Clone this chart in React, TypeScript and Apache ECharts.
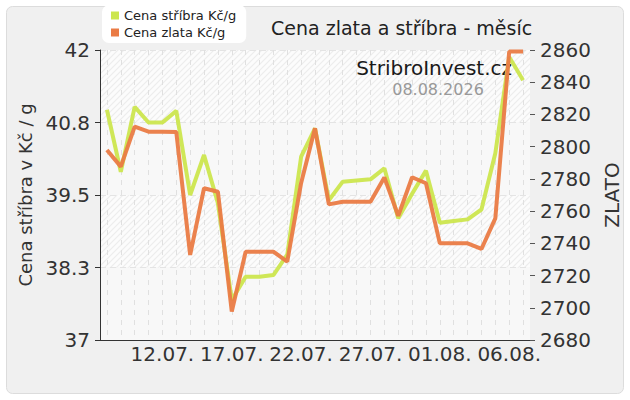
import React, { useEffect, useRef } from 'react';
import * as echarts from 'echarts';

const dates = [
  '08.07.', '09.07.', '10.07.', '11.07.', '12.07.', '13.07.', '14.07.', '15.07.',
  '16.07.', '17.07.', '18.07.', '19.07.', '20.07.', '21.07.', '22.07.', '23.07.',
  '24.07.', '25.07.', '26.07.', '27.07.', '28.07.', '29.07.', '30.07.', '31.07.',
  '01.08.', '02.08.', '03.08.', '04.08.', '05.08.', '06.08.', '07.08.',
];

const silverPrices = [
  40.97, 39.9, 41.02, 40.75, 40.75, 40.95, 39.5, 40.19, 39.36, 37.69, 38.09,
  38.09, 38.12, 38.47, 40.16, 40.65, 39.41, 39.73, 39.75, 39.77, 39.96, 39.1,
  39.52, 39.92, 39.02, 39.05, 39.08, 39.25, 40.22, 41.88, 41.48,
];

const goldPrices = [
  2797.9, 2787.6, 2812.4, 2809.3, 2809.3, 2809.1, 2732.8, 2774.2, 2772.0, 2697.6,
  2734.8, 2734.8, 2734.8, 2728.7, 2777.5, 2811.4, 2764.2, 2765.8, 2765.8, 2765.8,
  2780.9, 2757.0, 2781.0, 2777.3, 2740.0, 2740.0, 2740.0, 2736.5, 2755.5, 2859, 2859,
];

const silverTicks = [37, 38.25, 39.5, 40.75, 42];

const FONT = '"DejaVu Sans", Verdana, sans-serif';

const hatchSrc =
  'data:image/svg+xml;charset=utf-8,' +
  encodeURIComponent(
    '<svg xmlns="http://www.w3.org/2000/svg" width="6" height="6">' +
      '<rect width="6" height="6" fill="#fcfcfc"/>' +
      '<path d="M-1.5,1.5 L1.5,-1.5 M0,6 L6,0 M4.5,7.5 L7.5,4.5" stroke="#ededed" stroke-width="1.2"/>' +
      '</svg>'
  );

const showLabel = (i: number) => i % 5 === 4;

export default function App() {
  const ref = useRef<HTMLDivElement>(null);

  useEffect(() => {
    document.body.style.margin = '0';
    if (!ref.current) return;
    const chart = echarts.init(ref.current, null, { renderer: 'svg' });
    const hatch: any = { image: hatchSrc, repeat: 'repeat', imageWidth: 6, imageHeight: 6 };
    chart.setOption({
      animation: false,
      textStyle: { fontFamily: FONT },
      graphic: [
        {
          type: 'rect',
          z: -10,
          silent: true,
          shape: { x: 6.5, y: 6.5, width: 617, height: 387, r: 6 },
          style: { fill: '#f0f0f0', stroke: '#dcdcdc', lineWidth: 1 },
        },
        {
          type: 'text',
          z: 1,
          x: 512,
          y: 68,
          style: {
            text: 'StribroInvest.cz',
            font: '20px ' + FONT,
            fill: '#1a1a1a',
            align: 'right',
            verticalAlign: 'middle',
          },
        },
        {
          type: 'text',
          z: 1,
          x: 438,
          y: 89,
          style: {
            text: '08.08.2026',
            font: '16px ' + FONT,
            fill: '#999999',
            align: 'center',
            verticalAlign: 'middle',
          },
        },
      ],
      title: {
        text: 'Cena zlata a stříbra - měsíc',
        left: 266,
        top: 13,
        textStyle: { fontSize: 19, fontWeight: 'normal', color: '#222', fontFamily: FONT },
      },
      legend: {
        orient: 'vertical',
        left: 102,
        top: 5,
        padding: [4, 10, 4, 9],
        itemGap: 4,
        itemWidth: 8,
        itemHeight: 8,
        icon: 'rect',
        backgroundColor: '#ffffff',
        borderRadius: 7,
        textStyle: { fontSize: 13, color: '#222', fontFamily: FONT },
        data: ['Cena stříbra Kč/g', 'Cena zlata Kč/g'],
      },
      grid: { left: 100, right: 100, top: 50, bottom: 60 },
      xAxis: {
        type: 'category',
        data: dates,
        boundaryGap: true,
        axisLine: { lineStyle: { color: '#333' } },
        axisTick: { alignWithLabel: true, interval: showLabel, length: 5, lineStyle: { color: '#333' } },
        axisLabel: { interval: showLabel, fontSize: 20, color: '#333', margin: 4, fontFamily: FONT },
        splitLine: {
          show: true,
          interval: 0,
          alignWithLabel: true,
          lineStyle: { color: '#e0e0e0', type: [5, 5] },
        },
      },
      yAxis: [
        {
          type: 'value',
          position: 'left',
          min: 37,
          max: 42,
          name: 'Cena stříbra v Kč / g',
          nameLocation: 'middle',
          nameGap: 66,
          nameRotate: 90,
          nameTextStyle: { fontSize: 18, color: '#333', fontFamily: FONT },
          axisLine: { show: true, lineStyle: { color: '#333' } },
          axisTick: { show: true, length: 5, customValues: silverTicks, lineStyle: { color: '#333' } },
          axisLabel: {
            customValues: silverTicks,
            formatter: (v: number) => (Number.isInteger(v) ? String(v) : v.toFixed(1)),
            fontSize: 20,
            color: '#333',
            margin: 10,
            fontFamily: FONT,
          },
          splitLine: { show: true, lineStyle: { color: '#e4e4e4', type: [6, 4] } },
          splitArea: { show: true, areaStyle: { color: ['#f8f8f8', hatch] } },
        },
        {
          type: 'value',
          position: 'right',
          min: 2680,
          max: 2860,
          interval: 20,
          name: 'ZLATO',
          nameLocation: 'middle',
          nameGap: 58,
          nameRotate: 90,
          nameTextStyle: { fontSize: 20, color: '#333', fontFamily: FONT },
          axisLine: { show: false },
          axisTick: { show: true, length: 5, lineStyle: { color: '#555' } },
          axisLabel: {
            fontSize: 20,
            color: '#333',
            margin: 10,
            fontFamily: FONT,
            formatter: (v: number) => String(v),
          },
          splitLine: { show: false },
        },
      ],
      series: [
        {
          name: 'Cena stříbra Kč/g',
          type: 'line',
          yAxisIndex: 0,
          data: silverPrices,
          symbol: 'none',
          lineStyle: { width: 4, color: '#cce64e', opacity: 0.95 },
          itemStyle: { color: '#cce64e' },
        },
        {
          name: 'Cena zlata Kč/g',
          type: 'line',
          yAxisIndex: 1,
          data: goldPrices,
          symbol: 'none',
          lineStyle: { width: 4, color: '#ea7b45', opacity: 0.95 },
          itemStyle: { color: '#ea7b45' },
        },
      ],
    });
    return () => chart.dispose();
  }, []);

  return <div ref={ref} style={{ width: 630, height: 400 }} />;
}
